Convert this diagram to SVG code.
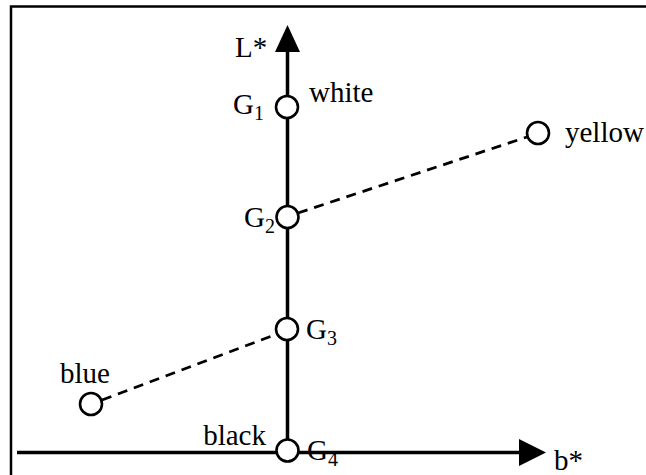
<svg xmlns="http://www.w3.org/2000/svg" width="646" height="475" viewBox="0 0 646 475">
<style>
.axis{stroke:#000;stroke-width:3.5;fill:none}
.dash{stroke:#000;stroke-width:2.8;stroke-dasharray:10,7;fill:none}
.pt{fill:#fff;stroke:#000;stroke-width:2.6}
text{font-family:"Liberation Serif","Times New Roman",serif;font-size:29px;fill:#000}
.sub{font-size:20px}
</style>
<rect width="646" height="475" fill="#fff"/>
<path d="M11 475 V6.5 H646" stroke="#000" stroke-width="2.5" fill="none"/>
<g id="connectors">
<line class="axis" x1="17" y1="452.5" x2="520" y2="452.5"/>
<polygon points="519,439 546,452.5 519,466" fill="#000"/>
<line class="axis" x1="287.5" y1="452" x2="287.5" y2="50"/>
<polygon points="275,52 287.5,25 300,52" fill="#000"/>
<line class="dash" x1="298" y1="213" x2="527" y2="137"/>
<line class="dash" x1="102" y1="400" x2="277" y2="334"/>
</g>
<g id="G1"><circle class="pt" cx="287" cy="107" r="11"/></g>
<g id="G2"><circle class="pt" cx="287.5" cy="217" r="11"/></g>
<g id="G3"><circle class="pt" cx="287" cy="329" r="11"/></g>
<g id="G4"><circle class="pt" cx="287.5" cy="450.5" r="11"/></g>
<g id="yellow"><circle class="pt" cx="538" cy="133" r="11"/></g>
<g id="blue"><circle class="pt" cx="91" cy="404" r="11"/></g>
<text x="235" y="57">L*</text>
<text x="309" y="102">white</text>
<text x="233" y="114">G<tspan class="sub" dy="6">1</tspan></text>
<text x="565" y="142">yellow</text>
<text x="275" y="227" text-anchor="end">G<tspan class="sub" dy="6">2</tspan></text>
<text x="306" y="339">G<tspan class="sub" dy="6">3</tspan></text>
<text x="60" y="383">blue</text>
<text x="266" y="445" text-anchor="end">black</text>
<text x="307" y="460">G<tspan class="sub" dy="6">4</tspan></text>
<text x="554" y="470">b*</text>
</svg>
